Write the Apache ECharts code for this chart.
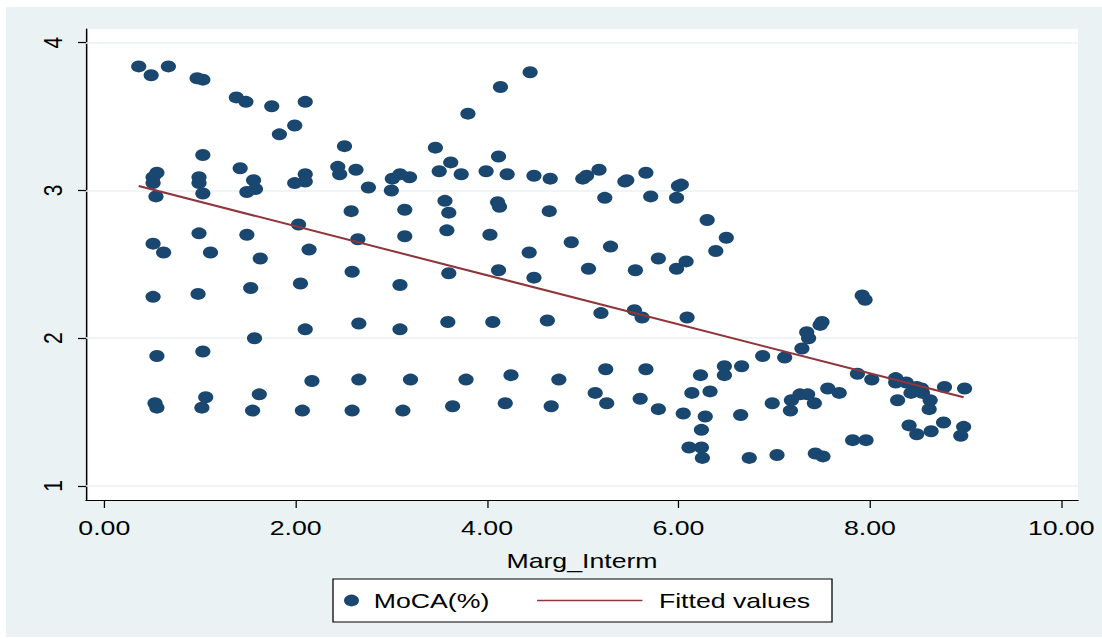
<!DOCTYPE html>
<html>
<head>
<meta charset="utf-8">
<title>MoCA(%) vs Marg_Interm</title>
<script src="https://cdn.jsdelivr.net/npm/echarts@6/dist/echarts.min.js"></script>
<style>
  html, body { margin: 0; padding: 0; background: #ffffff; }
  #frame {
    position: absolute; left: 6px; top: 7px;
    width: 1096px; height: 630px;
    background: #eaf2f3; overflow: hidden;
  }
  /* the graph is laid out narrow and widened horizontally, like the exported figure */
  #chart { width: 863px; height: 630px; transform: scaleX(1.27); transform-origin: 0 0; }
</style>
</head>
<body>
<div id="frame"><div id="chart"></div></div>
<script>
// ---- data ----
const margInterm = [
  0.36, 0.49, 0.67, 0.97, 1.03, 1.38, 1.48, 1.75, 2.10, 1.83, 1.99, 2.51, 3.46, 3.80, 4.14, 4.45,
  1.03, 0.55, 0.51, 0.51, 0.54, 0.99, 0.99, 1.03, 1.42, 1.56, 1.58, 1.49, 2.10, 2.10, 1.99, 2.44,
  2.46, 2.63, 2.76, 3.00, 3.01, 3.09, 3.19, 3.50, 3.62, 3.73, 3.99, 4.12, 4.21, 4.49,
  3.56, 3.60, 2.58, 3.14, 4.11, 4.13, 3.58, 4.03, 4.44, 0.99, 1.49, 2.03, 2.65, 3.14, 0.51, 0.62,
  1.11, 1.63, 2.14,
  4.66, 4.65, 5.00, 5.04, 5.17, 5.23, 4.88, 5.29, 5.44, 5.46, 5.66, 5.71, 5.98, 6.00, 6.03, 6.30,
  6.50, 6.39, 5.79, 6.08, 5.06, 5.55, 5.98,
  4.49, 4.63, 5.19, 5.54, 5.62, 6.09, 4.75, 5.24, 5.66, 4.67, 5.13, 5.25, 5.60, 5.79, 6.05, 6.14,
  6.23, 6.33, 6.48, 6.48, 6.66, 6.88, 7.11, 6.28, 6.24, 6.11, 6.24, 6.25, 6.65, 6.74, 6.98, 7.03,
  7.18, 7.17, 7.27, 7.35, 7.42, 7.56, 7.68, 7.29, 7.36, 7.34, 7.48, 7.50, 7.92, 7.95, 7.43, 7.51,
  7.87, 8.02, 7.82, 7.96, 8.27, 8.27, 8.38, 8.49, 8.54, 8.29, 8.43, 8.55, 8.63, 8.62, 8.41, 8.49,
  8.64, 8.77, 8.78, 8.99, 8.98, 8.95,
  0.51, 0.98, 1.53, 2.05, 2.59, 3.09, 3.60, 4.12, 0.55, 1.03, 1.57, 2.10, 2.66, 3.09, 3.59, 4.06,
  2.17, 2.66, 3.20, 3.78, 4.25, 0.53, 0.55, 1.06, 1.02, 1.62, 1.55, 2.07, 2.59, 3.12, 3.64, 4.19
];
const moca = [
  3.84, 3.78, 3.84, 3.76, 3.75, 3.63, 3.60, 3.57, 3.60, 3.38, 3.44, 3.30, 3.29, 3.52, 3.70, 3.80,
  3.24, 3.12, 3.09, 3.05, 2.96, 3.09, 3.05, 2.98, 3.15, 3.07, 3.01, 2.99, 3.11, 3.06, 3.05, 3.16,
  3.11, 3.14, 3.02, 3.00, 3.08, 3.11, 3.09, 3.13, 3.19, 3.11, 3.13, 3.23, 3.11, 3.10,
  2.93, 2.85, 2.86, 2.87, 2.92, 2.89, 2.73, 2.70, 2.58, 2.71, 2.70, 2.77, 2.67, 2.69, 2.64, 2.58,
  2.58, 2.54, 2.60,
  3.08, 2.86, 3.08, 3.10, 3.14, 2.95, 2.65, 2.62, 3.06, 3.07, 3.12, 2.96, 2.95, 3.03, 3.04, 2.80,
  2.68, 2.59, 2.54, 2.52, 2.47, 2.46, 2.47,
  2.41, 2.12, 2.17, 2.19, 2.14, 2.14, 1.72, 1.79, 1.79, 1.54, 1.63, 1.56, 1.59, 1.52, 1.49, 1.63,
  1.75, 1.64, 1.81, 1.75, 1.81, 1.88, 1.87, 1.47, 1.38, 1.26, 1.26, 1.19, 1.48, 1.19, 1.56, 1.21,
  1.58, 1.51, 1.62, 1.62, 1.56, 1.66, 1.63, 1.93, 2.00, 2.04, 2.09, 2.11, 2.29, 2.26, 1.22, 1.20,
  1.76, 1.72, 1.31, 1.31, 1.73, 1.70, 1.70, 1.67, 1.66, 1.58, 1.63, 1.63, 1.58, 1.52, 1.41, 1.35,
  1.37, 1.43, 1.67, 1.66, 1.40, 1.34,
  2.28, 2.30, 2.34, 2.37, 2.45, 2.36, 2.44, 2.46, 1.88, 1.91, 2.00, 2.06, 2.10, 2.06, 2.11, 2.11,
  1.71, 1.72, 1.72, 1.72, 1.75, 1.56, 1.53, 1.60, 1.53, 1.62, 1.51, 1.51, 1.51, 1.51, 1.54, 1.56
];
// linear fit, drawn between the smallest and largest Marg_Interm
const fitX = [0.36, 8.98];
const fitY = [3.03, 1.60];

const xTicks = [0, 2, 4, 6, 8, 10];
const yTicks = [1, 2, 3, 4];

// ---- chart ----
const SX = 1.27;               // horizontal widening applied to the whole graph
const FONT = '"Liberation Sans", Arial, Helvetica, sans-serif';
const NAVY = '#1a476f';
const MAROON = '#90353b';
const BG = '#eaf2f3';

const scatterData = margInterm.map((x, i) => [x, moca[i]]);
const fitData = fitX.map((x, i) => [x, fitY[i]]);

const chart = echarts.init(document.getElementById('chart'), null, { renderer: 'svg' });
chart.setOption({
  animation: false,
  backgroundColor: BG,
  textStyle: { fontFamily: FONT },
  grid: {
    left: 80 / SX, top: 22, width: 992 / SX, height: 471,
    show: true, backgroundColor: '#ffffff', borderWidth: 0
  },
  xAxis: {
    type: 'value',
    min: -0.191, max: 10.175,
    axisLine: { show: true, onZero: false, lineStyle: { color: '#000', width: 1.2 } },
    axisTick: { show: true, customValues: xTicks, length: 8, lineStyle: { color: '#000', width: 1 } },
    axisLabel: {
      customValues: xTicks, margin: 17,
      formatter: v => v.toFixed(2),
      fontSize: 21, color: '#000', fontFamily: FONT
    },
    splitLine: { show: false },
    name: 'Marg_Interm', nameLocation: 'middle', nameGap: 50,
    nameTextStyle: { fontSize: 21, color: '#000', fontFamily: FONT }
  },
  yAxis: {
    type: 'value',
    min: 0.905, max: 4.093,
    axisLine: { show: true, onZero: false, lineStyle: { color: '#000', width: 1.2 } },
    axisTick: { show: true, customValues: yTicks, length: 6.3, lineStyle: { color: '#000', width: 1.2 } },
    axisLabel: {
      customValues: yTicks, rotate: 90, margin: 15.5,
      fontSize: 21, color: '#000', fontFamily: FONT
    },
    splitLine: { show: false }
  },
  graphic: [{
    type: 'rect', z: 1, silent: true,
    shape: { x: 327 / SX, y: 572, width: 499 / SX, height: 43 },
    style: { fill: '#ffffff', stroke: '#000000', lineWidth: 1 }
  }],
  legend: [
    {
      data: ['MoCA(%)'], left: 338 / SX, top: 583, padding: 0,
      itemWidth: 25, itemHeight: 11.8,
      textStyle: { fontSize: 21, color: '#000', fontFamily: FONT }
    },
    {
      data: [{ name: 'Fitted values', icon: 'rect' }], left: 531 / SX, top: 583, padding: 0,
      itemWidth: 83, itemHeight: 1.6,
      textStyle: { fontSize: 21, color: '#000', fontFamily: FONT, padding: [0, 0, 0, 8] }
    }
  ],
  series: [
    {
      name: 'MoCA(%)', type: 'scatter',
      data: scatterData,
      symbol: 'circle', symbolSize: 12,
      itemStyle: { color: NAVY, opacity: 1 },
      markLine: {
        z: 1, silent: true, symbol: 'none',
        label: { show: false },
        lineStyle: { color: BG, width: 1.5, type: 'solid' },
        data: yTicks.map(v => ({ yAxis: v }))
      }
    },
    {
      name: 'Fitted values', type: 'line',
      data: fitData,
      symbol: 'none', showSymbol: false,
      lineStyle: { color: MAROON, width: 2 },
      itemStyle: { color: MAROON }
    }
  ]
});
</script>
</body>
</html>
